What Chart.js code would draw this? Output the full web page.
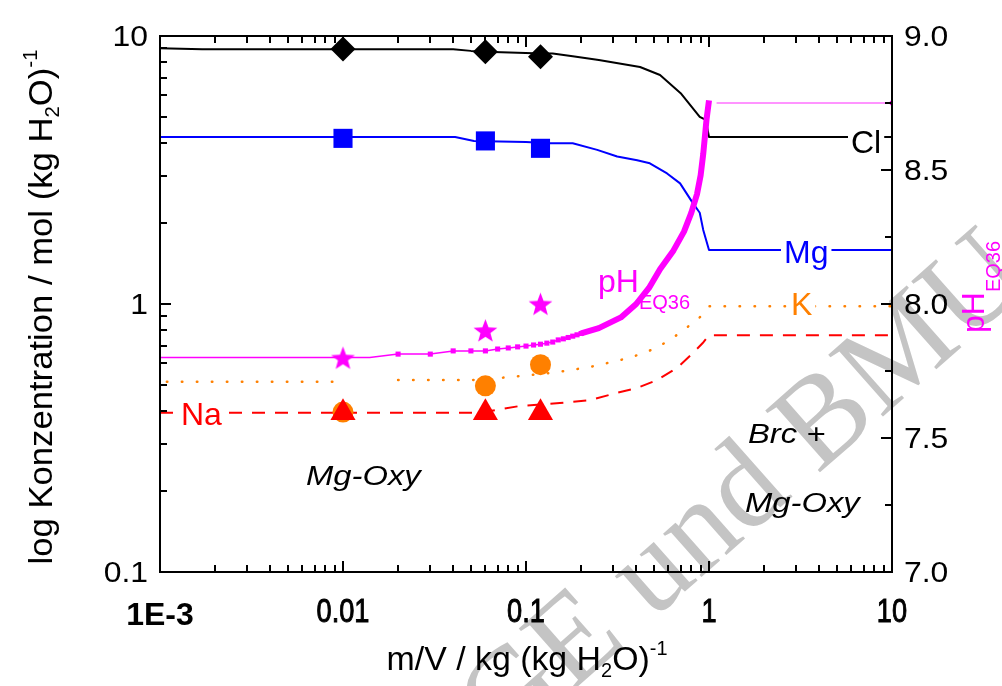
<!DOCTYPE html>
<html><head><meta charset="utf-8">
<script src="https://cdn.jsdelivr.net/npm/chart.js@4/dist/chart.umd.min.js"></script>
<style>html,body{margin:0;padding:0;background:#fff}</style>
</head><body>
<canvas id="c" width="1002" height="686"></canvas>
<script>
// ---------- axis ticks ----------
const xTickValues = [0.001, 0.01, 0.1, 1, 10];
const xTickLabels = ['1E-3', '0.01', '0.1', '1', '10'];
const yTickValues = [0.1, 1, 10];
const yTickLabels = ['0.1', '1', '10'];
const y2TickValues = [7.0, 7.5, 8.0, 8.5, 9.0];
const y2TickLabels = ['7.0', '7.5', '8.0', '8.5', '9.0'];
const y2MinorValues = [7.25, 7.75, 8.25, 8.75];

// ---------- model curves (concentration, mol/kg H2O) ----------
const clLineX = [0.001, 0.0017, 0.04, 0.05, 0.06, 0.11, 0.14, 0.18, 0.25, 0.42, 0.54, 0.7, 0.89, 0.96, 1.0, 10];
const clLineY = [9.0, 8.92, 8.92, 8.8, 8.74, 8.62, 8.6, 8.4, 8.14, 7.66, 7.15, 6.12, 4.99, 4.86, 4.2, 4.2];

const mgLineX = [0.001, 0.041, 0.052, 0.1, 0.135, 0.18, 0.245, 0.315, 0.405, 0.475, 0.59, 0.695, 0.81, 0.89, 0.93, 1.0, 10];
const mgLineY = [4.2, 4.2, 4.06, 4.02, 3.98, 3.98, 3.76, 3.55, 3.44, 3.35, 3.07, 2.82, 2.40, 2.19, 1.89, 1.59, 1.59];

const naLineX = [0.001, 0.05, 0.06, 0.09, 0.153, 0.224, 0.314, 0.405, 0.52, 0.668, 0.818, 0.924, 1.0, 10];
const naLineY = [0.393, 0.393, 0.396, 0.415, 0.427, 0.438, 0.466, 0.486, 0.52, 0.577, 0.656, 0.715, 0.765, 0.765];

const kLine1X = [0.00109, 0.01];
const kLine1Y = [0.513, 0.513];
const kLine2X = [0.02, 0.05, 0.08, 0.14, 0.224, 0.37, 0.52, 0.695, 0.894, 1.0, 10];
const kLine2Y = [0.52, 0.52, 0.533, 0.554, 0.582, 0.63, 0.686, 0.78, 0.894, 0.98, 0.98];

// ---------- model pH (right axis) ----------
const phThinX = [0.001, 0.014];
const phThinY = [7.80, 7.80];
const phSquareX = [0.02, 0.03, 0.04, 0.05, 0.06, 0.07, 0.08, 0.09, 0.10, 0.11, 0.12, 0.13, 0.14, 0.15, 0.16, 0.17, 0.18, 0.19, 0.20];
const phSquareY = [7.813, 7.813, 7.825, 7.825, 7.825, 7.832, 7.836, 7.840, 7.843, 7.847, 7.850, 7.854, 7.858, 7.866, 7.870, 7.875, 7.880, 7.885, 7.890];
const phThickX = [0.2, 0.25, 0.33, 0.4, 0.47, 0.54, 0.64, 0.73, 0.8, 0.86, 0.9, 0.93, 0.97, 1.0];
const phThickY = [7.89, 7.91, 7.95, 8.0, 8.06, 8.13, 8.20, 8.27, 8.34, 8.41, 8.48, 8.56, 8.69, 8.76];
const phTailX = [1.1, 10];
const phTailY = [8.75, 8.75];

// ---------- measured samples ----------
const sampleX = [0.01, 0.06, 0.12];
const clMeas = [8.95, 8.74, 8.37];
const mgMeas = [4.15, 4.06, 3.81];
const phMeas = [7.795, 7.897, 7.996];
const kMeas = [0.395, 0.495, 0.594];
const naMeas = [0.393, 0.393, 0.393];

// ---------- helpers ----------
const pts = (xs, ys) => xs.map((x, i) => ({ x: x, y: ys[i] }));
const FAM = '"Liberation Sans", Arial, Helvetica, sans-serif';

function makeStar(r, color) {
  const c = document.createElement('canvas');
  c.width = c.height = Math.ceil(2 * r + 2);
  const g = c.getContext('2d');
  g.fillStyle = color;
  g.beginPath();
  for (let i = 0; i < 10; i++) {
    const a = -Math.PI / 2 + i * Math.PI / 5;
    const rr = (i % 2) ? r * 0.42 : r;
    g.lineTo(c.width / 2 + rr * Math.cos(a), c.height / 2 + rr * Math.sin(a));
  }
  g.closePath();
  g.fill();
  return c;
}

function txt(ctx, s, x, y, o) {
  o = o || {};
  const segs = Array.isArray(s) ? s : [{ t: s }];
  const fam = o.family || FAM;
  const fontOf = g => (o.style || 'normal') + ' ' + (o.weight || 'normal') + ' ' + (g.size || o.size) + 'px ' + fam;
  ctx.save();
  let W = 0; const ws = [];
  for (const g of segs) { ctx.font = fontOf(g); const w = ctx.measureText(g.t).width; ws.push(w); W += w; }
  let k = o.sx || 1;
  if (o.fit) k = o.fit / W;
  ctx.translate(x, y);
  if (o.rot) ctx.rotate(o.rot);
  ctx.scale(k, 1);
  let cx = o.align === 'center' ? -W / 2 : (o.align === 'right' ? -W : 0);
  if (o.bg) {
    ctx.fillStyle = '#fff';
    ctx.fillRect(cx - o.bg[0], -o.size * 0.8, W + o.bg[0] + o.bg[1], o.size * 0.95);
  }
  ctx.fillStyle = o.color || '#000';
  ctx.strokeStyle = o.color || '#000';
  ctx.textBaseline = 'alphabetic';
  segs.forEach((g, i) => {
    ctx.font = fontOf(g);
    ctx.fillText(g.t, cx, g.dy || 0);
    if (o.stroke) { ctx.lineWidth = o.stroke; ctx.strokeText(g.t, cx, g.dy || 0); }
    cx += ws[i];
  });
  ctx.restore();
}

const starImg = makeStar(12.5, '#ff00ff');

const lineDefaults = { showLine: true, pointRadius: 0, fill: false, tension: 0, borderJoinStyle: 'round' };

const datasets = [
  { label: 'Na meas', data: pts(sampleX, naMeas), pointStyle: 'triangle', pointRadius: 14.5, backgroundColor: '#ff0000', borderColor: '#ff0000', borderWidth: 0, showLine: false, yAxisID: 'y', order: 1 },
  { label: 'K meas', data: pts(sampleX, kMeas), pointStyle: 'circle', pointRadius: 10.5, backgroundColor: '#ff8000', borderColor: '#ff8000', borderWidth: 0, showLine: false, yAxisID: 'y', order: 2 },
  { label: 'pH meas', data: pts(sampleX, phMeas), pointStyle: starImg, pointRadius: 12, backgroundColor: '#ff00ff', borderColor: '#ff00ff', showLine: false, yAxisID: 'y2', order: 1 },
  { label: 'Cl meas', data: pts(sampleX, clMeas), pointStyle: 'rectRot', pointRadius: 12.5, backgroundColor: '#000', borderColor: '#000', borderWidth: 0, showLine: false, yAxisID: 'y', order: 1 },
  { label: 'Mg meas', data: pts(sampleX, mgMeas), pointStyle: 'rect', pointRadius: 13.5, backgroundColor: '#0000ff', borderColor: '#0000ff', borderWidth: 0, showLine: false, yAxisID: 'y', order: 1 },
  Object.assign({}, lineDefaults, { label: 'pH thin', data: pts(phThinX.concat(phSquareX), phThinY.concat(phSquareY)), borderColor: '#ff00ff', backgroundColor: '#ff00ff', borderWidth: 1.5, pointStyle: 'rect', pointRadius: c => c.dataIndex < phThinX.length ? 0 : 3.6, pointBorderWidth: 0, yAxisID: 'y2', order: 5 }),
  Object.assign({}, lineDefaults, { label: 'pH thick', data: pts(phThickX, phThickY), borderColor: '#ff00ff', borderWidth: 6, borderCapStyle: 'butt', yAxisID: 'y2', order: 5 }),
  Object.assign({}, lineDefaults, { label: 'pH tail', data: pts(phTailX, phTailY), borderColor: '#ff70ff', backgroundColor: '#ff00ff', borderWidth: 1.5, pointStyle: 'rect', pointRadius: c => c.dataIndex === phTailX.length - 1 ? 3 : 0, pointBorderWidth: 0, yAxisID: 'y2', order: 5 }),
  Object.assign({}, lineDefaults, { label: 'Cl', data: pts(clLineX, clLineY), borderColor: '#000000', borderWidth: 2, yAxisID: 'y', order: 8 }),
  Object.assign({}, lineDefaults, { label: 'Mg', data: pts(mgLineX, mgLineY), borderColor: '#0000ff', borderWidth: 2, yAxisID: 'y', order: 8 }),
  Object.assign({}, lineDefaults, { label: 'Na', data: pts(naLineX, naLineY), borderColor: '#ff0000', borderWidth: 2, borderDash: [13, 10], yAxisID: 'y', order: 8 }),
  Object.assign({}, lineDefaults, { label: 'K1', data: pts(kLine1X, kLine1Y), borderColor: '#ff8000', borderWidth: 2.5, borderDash: [0.5, 14.5], borderCapStyle: 'round', yAxisID: 'y', order: 8 }),
  Object.assign({}, lineDefaults, { label: 'K2', data: pts(kLine2X, kLine2Y), borderColor: '#ff8000', borderWidth: 2.5, borderDash: [0.5, 14.5], borderCapStyle: 'round', yAxisID: 'y', order: 8 })
];

function minorLog(min, max) {
  const out = [];
  const e0 = Math.round(Math.log10(min)), e1 = Math.round(Math.log10(max));
  for (let e = e0; e < e1; e++) {
    for (let k = 2; k <= 9; k++) out.push(k * Math.pow(10, e));
  }
  return out;
}

function drawTicks(chart) {
  const ctx = chart.ctx;
  const a = chart.chartArea;
  const xs = chart.scales.x, ys = chart.scales.y, ys2 = chart.scales.y2;
  const L = Math.round(a.left), R = Math.round(a.right), T = Math.round(a.top), B = Math.round(a.bottom);
  const MAJ = 11, MIN = 7;
  const segs = [];
  xTickValues.forEach(v => segs.push(['x', v, MAJ]));
  minorLog(0.001, 10).forEach(v => segs.push(['x', v, MIN]));
  yTickValues.forEach(v => segs.push(['y', v, MAJ]));
  minorLog(0.1, 10).forEach(v => segs.push(['y', v, MIN]));
  y2TickValues.forEach(v => segs.push(['y2', v, MAJ]));
  y2MinorValues.forEach(v => segs.push(['y2', v, MIN]));
  ctx.save();
  ctx.setTransform(1, 0, 0, 1, 0, 0);
  ctx.globalAlpha = 1;
  ctx.globalCompositeOperation = 'source-over';
  ctx.setLineDash([]);
  ctx.strokeStyle = '#000000';
  ctx.lineWidth = 2;
  ctx.lineCap = 'butt';
  ctx.beginPath();
  for (const s of segs) {
    if (s[0] === 'x') {
      const px = Math.round(xs.getPixelForValue(s[1]));
      ctx.moveTo(px, B); ctx.lineTo(px, B - s[2]);
      ctx.moveTo(px, T); ctx.lineTo(px, T + s[2]);
    } else if (s[0] === 'y') {
      const py = Math.round(ys.getPixelForValue(s[1]));
      ctx.moveTo(L, py); ctx.lineTo(L + s[2], py);
    } else {
      const py = Math.round(ys2.getPixelForValue(s[1]));
      ctx.moveTo(R, py); ctx.lineTo(R - s[2], py);
    }
  }
  ctx.moveTo(L, T); ctx.lineTo(R, T); ctx.lineTo(R, B); ctx.lineTo(L, B); ctx.closePath();
  ctx.stroke();
  ctx.restore();
}

const deco = {
  id: 'deco',
  beforeDraw(chart) {
    const ctx = chart.ctx;
    ctx.save();
    ctx.fillStyle = '#fff';
    ctx.fillRect(0, 0, chart.width, chart.height);
    ctx.restore();
  },
  beforeDatasetsDraw(chart) {
    const ctx = chart.ctx;
    const fs = 126;
    ctx.save();
    ctx.font = fs + 'px "Liberation Serif", "Times New Roman", serif';
    const wBG = ctx.measureText('BG').width, wE = ctx.measureText('E').width;
    ctx.translate(572, 636);
    ctx.rotate(-41.5 * Math.PI / 180);
    ctx.fillStyle = '#c4c4c4';
    ctx.fillText('BGE und BMU', -(wBG + wE / 2), 0.331 * fs);
    ctx.restore();
  },
  afterDatasetsDraw(chart) {
    const ctx = chart.ctx;
    txt(ctx, 'Cl', 851, 153, { size: 32, color: '#000', bg: [3, 3] });
    txt(ctx, 'Mg', 784, 263, { size: 32, color: '#0000ff', bg: [3, 3] });
    txt(ctx, 'K', 791, 315, { size: 32, color: '#ff8000', bg: [3, 3] });
    txt(ctx, 'Na', 181, 425, { size: 32, color: '#ff0000', bg: [3, 3] });
    txt(ctx, [{ t: 'pH', size: 32 }, { t: 'EQ36', size: 20, dy: 17 }], 598, 292, { size: 32, color: '#ff00ff' });
    txt(ctx, 'Mg-Oxy', 306, 485, { size: 28, style: 'italic', sx: 1.17 });
    txt(ctx, 'Brc +', 748, 443, { size: 28, style: 'italic', sx: 1.17 });
    txt(ctx, 'Mg-Oxy', 745, 512, { size: 28, style: 'italic', sx: 1.17 });
  },
  afterDraw(chart) {
    const ctx = chart.ctx;
    const xs = chart.scales.x, ys = chart.scales.y, ys2 = chart.scales.y2;
    drawTicks(chart);

    xTickValues.forEach((v, i) => {
      const px = xs.getPixelForValue(v);
      if (i === 0) txt(ctx, xTickLabels[i], px, 625, { size: 32, weight: 'bold', align: 'center' });
      else txt(ctx, xTickLabels[i], px, 622, { size: 34, align: 'center', sx: 0.8, stroke: 1.0 });
    });
    yTickValues.forEach((v, i) => {
      const py = ys.getPixelForValue(v);
      txt(ctx, yTickLabels[i], 148, py + 10, { size: 29, align: 'right', sx: 1.1 });
    });
    y2TickValues.forEach((v, i) => {
      const py = ys2.getPixelForValue(v);
      txt(ctx, y2TickLabels[i], 904, py + 10, { size: 29, align: 'left', sx: 1.1 });
    });

    txt(ctx, [{ t: 'log Konzentration / mol (kg H' }, { t: '2', size: 20, dy: 7 }, { t: 'O)' }, { t: '-1', size: 20, dy: -15 }],
      52, 307, { size: 34, align: 'center', rot: -Math.PI / 2, fit: 515 });
    txt(ctx, [{ t: 'm/V / kg (kg H' }, { t: '2', size: 20, dy: 7 }, { t: 'O)' }, { t: '-1', size: 20, dy: -15 }],
      527, 670, { size: 34, align: 'center', fit: 281 });
    txt(ctx, [{ t: 'pH', size: 32 }, { t: 'EQ36', size: 20, dy: 16 }],
      984, 333, { size: 32, align: 'left', rot: -Math.PI / 2, color: '#ff00ff' });
  }
};

new Chart(document.getElementById('c'), {
  type: 'scatter',
  data: { datasets: datasets },
  options: {
    responsive: false,
    animation: false,
    devicePixelRatio: 1,
    layout: { padding: { left: 160, right: 110, top: 36, bottom: 114 } },
    plugins: { legend: { display: false }, tooltip: { enabled: false } },
    scales: {
      x: { type: 'logarithmic', min: 0.001, max: 10, display: false },
      y: { type: 'logarithmic', min: 0.1, max: 10, display: false },
      y2: { type: 'linear', min: 7, max: 9, display: false, position: 'right' }
    }
  },
  plugins: [deco]
});
</script>
</body></html>
